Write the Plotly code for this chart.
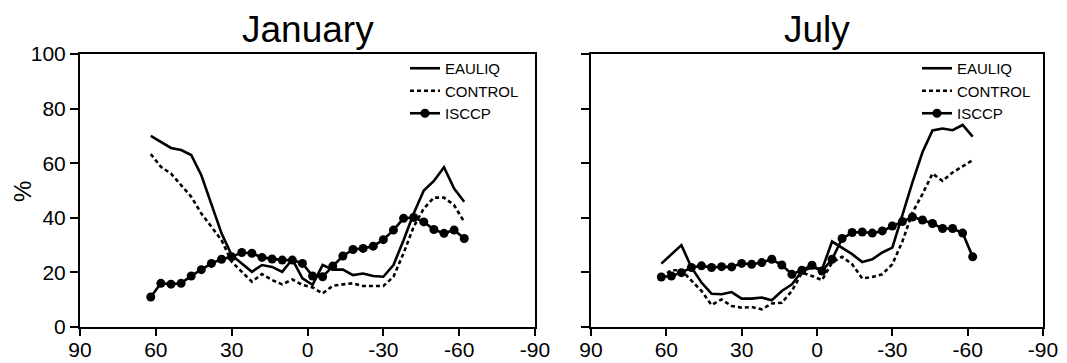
import plotly.graph_objects as go

# ---------------- data ----------------
lat = [62, 58, 54, 50, 46, 42, 38, 34, 30, 26, 22, 18, 14, 10, 6, 2,
       -2, -6, -10, -14, -18, -22, -26, -30, -34, -38, -42, -46, -50, -54, -58, -62]

jan_eauliq = [70, 67.8, 65.6, 64.8, 63, 55.6, 45.2, 34.3, 26.3, 23.3, 20.2, 22.7, 22, 20.2, 24.8, 17.8,
              15.4, 22.7, 21, 21, 19, 19.6, 18.7, 18.4, 22.7, 31.8, 41.6, 50, 53.5, 58.5, 50.7, 45.9]
jan_control = [63.3, 58.7, 56.2, 52, 47.7, 41.6, 36.7, 31.8, 23.9, 20.2, 16.6, 19.4, 17.2, 15.6, 17.4, 15.4,
               14.5, 12.3, 15.1, 15.6, 16, 15, 15, 15, 18.4, 27, 36.7, 43.4, 47.4, 47.4, 44.6, 38.5]
jan_isccp = [11, 16, 15.7, 16, 18.7, 21, 23.3, 24.8, 25.7, 27.3, 27, 25.5, 24.9, 24.5, 24.5, 23.3,
             18.7, 18.4, 22.3, 26, 28.4, 28.8, 29.6, 32, 35.5, 39.8, 40.1, 38.5, 35.7, 34.3, 35.5, 32.4]

jul_eauliq = [23.2, 26.5, 30, 21.8, 16.3, 12.2, 12, 12.8, 10.4, 10.4, 10.8, 9.8, 13.2, 15.6, 20.5, 21.8,
              21.1, 31.3, 29.1, 26.7, 23.8, 24.8, 27.3, 29.1, 41, 53, 64, 72, 72.7, 72.1, 74, 69.7]
jul_control = [18.3, 20.8, 20.8, 16.9, 13.2, 8.1, 10.1, 7.7, 7.1, 7.3, 6.5, 8.6, 8.9, 13.2, 19.9, 18.7,
               17.2, 23.6, 25.7, 23, 17.8, 18.3, 19.3, 23, 31.3, 41.9, 48.7, 56.2, 53.5, 56.6, 59, 61.1]
jul_isccp = [18.3, 18.7, 19.9, 21.8, 22.4, 21.8, 22.1, 22, 23.3, 23, 23.6, 24.8, 22.7, 19.3, 20.8, 22.6,
             20.5, 24.8, 32.4, 34.6, 34.8, 34.4, 35.2, 37, 38.6, 40.3, 39.2, 37.9, 36.1, 36.1, 34.4, 25.7]

panel_titles = ["January", "July"]
series_names = ["EAULIQ", "CONTROL", "ISCCP"]
y_title = "%"
x_ticks = [90, 60, 30, 0, -30, -60, -90]
x_ticklabels = ["90", "60", "30", "0", "-30", "-60", "-90"]
y_ticks = [0, 20, 40, 60, 80, 100]
y_ticklabels = ["0", "20", "40", "60", "80", "100"]

# ---------------- layout helpers ----------------
W, H = 1067, 363
FONT = "Liberation Sans, Arial, Helvetica, sans-serif"


def fx(p):
    return p / W


def fy(p):
    return 1 - p / H


fig = go.Figure()

panels = [
    (jan_eauliq, jan_control, jan_isccp, "x", "y", "legend"),
    (jul_eauliq, jul_control, jul_isccp, "x2", "y2", "legend2"),
]

LW = 2.6
for ea, co, isc, xa, ya, lg in panels:
    fig.add_trace(go.Scatter(x=lat, y=ea, mode="lines", name=series_names[0],
                             line=dict(color="black", width=LW),
                             xaxis=xa, yaxis=ya, legend=lg))
    fig.add_trace(go.Scatter(x=lat, y=co, mode="lines", name=series_names[1],
                             line=dict(color="black", width=LW, dash="4px,3px"),
                             xaxis=xa, yaxis=ya, legend=lg))
    fig.add_trace(go.Scatter(x=lat, y=isc, mode="lines+markers", name=series_names[2],
                             line=dict(color="black", width=LW),
                             marker=dict(color="black", size=9, symbol="circle"),
                             xaxis=xa, yaxis=ya, legend=lg))

xcommon = dict(range=[90, -90], tickmode="array", tickvals=x_ticks, ticktext=x_ticklabels,
               ticks="outside", ticklen=7, tickwidth=2, tickcolor="black",
               showline=True, linecolor="black", linewidth=2, mirror=True,
               showgrid=False, zeroline=False, automargin=False, ticklabelstandoff=-4,
               tickfont=dict(family=FONT, size=21, color="black"))
ycommon = dict(range=[0, 100], tickmode="array", tickvals=y_ticks, ticktext=y_ticklabels,
               ticks="outside", ticklen=8, tickwidth=2, tickcolor="black",
               showline=True, linecolor="black", linewidth=2, mirror=True,
               showgrid=False, zeroline=False, automargin=False,
               tickfont=dict(family=FONT, size=21, color="black"))

left_dom = [fx(80), fx(535)]
right_dom = [fx(591), fx(1043)]
ydom = [fy(327), fy(54)]

legend_common = dict(bgcolor="rgba(0,0,0,0)", borderwidth=0, xanchor="left", yanchor="top",
                     font=dict(family=FONT, size=15, color="black"), tracegroupgap=0,
                     itemclick=False, itemdoubleclick=False)

fig.update_layout(
    width=W, height=H,
    margin=dict(l=0, r=0, t=0, b=0, pad=0, autoexpand=False),
    paper_bgcolor="white", plot_bgcolor="white",
    font=dict(family=FONT, color="black"),
    xaxis=dict(domain=left_dom, anchor="y", **xcommon),
    yaxis=dict(domain=ydom, anchor="x", **ycommon),
    xaxis2=dict(domain=right_dom, anchor="y2", **xcommon),
    yaxis2=dict(domain=ydom, anchor="x2", showticklabels=False, **ycommon),
    legend=dict(x=fx(405), y=fy(52), **legend_common),
    legend2=dict(x=fx(917), y=fy(52), **legend_common),
    showlegend=True,
    annotations=[
        dict(text=panel_titles[0], x=(left_dom[0] + left_dom[1]) / 2, y=fy(30),
             xref="paper", yref="paper", xanchor="center", yanchor="middle", showarrow=False,
             font=dict(family=FONT, size=37, color="black")),
        dict(text=panel_titles[1], x=(right_dom[0] + right_dom[1]) / 2, y=fy(30),
             xref="paper", yref="paper", xanchor="center", yanchor="middle", showarrow=False,
             font=dict(family=FONT, size=37, color="black")),
        dict(text=y_title, x=fx(22), y=fy(192), textangle=-90,
             xref="paper", yref="paper", xanchor="center", yanchor="middle", showarrow=False,
             font=dict(family=FONT, size=24, color="black")),
    ],
)

fig.write_html("out.html", config={"displayModeBar": False},
               post_script="document.body.style.margin='0';document.body.style.padding='0';"
                           "document.documentElement.style.overflow='hidden';")
